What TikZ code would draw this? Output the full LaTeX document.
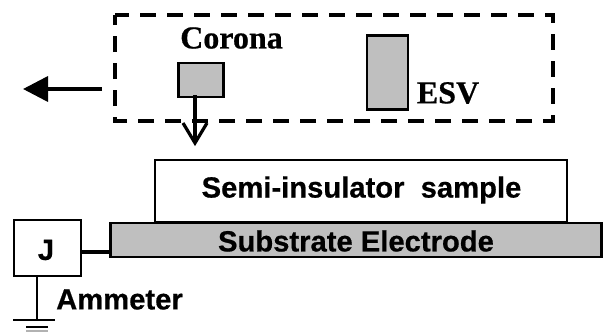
\documentclass[tikz,border=0pt]{standalone}
\usepackage{fontspec}
\setmainfont[BoldFeatures={FakeBold=0.6}]{Liberation Sans}
\newfontfamily\serifbold[BoldFeatures={FakeBold=0.6}]{Liberation Serif}
\usetikzlibrary{arrows.meta}
\tikzset{
  box/.style={draw=black,line width=2.2pt,inner sep=0pt,outer sep=0pt,fill=white},
  greybox/.style={box,fill=black!25},
  framebox/.style={inner sep=0pt,outer sep=0pt},
  dashline/.style={draw=black,line width=3.6pt,dash pattern=on 16pt off 11pt,dash phase=2pt},
  sanslabel/.style={font=\bfseries\fontsize{29.2}{32}\selectfont,inner sep=0pt,text=black},
  seriflabel/.style={font=\serifbold\bfseries\fontsize{32}{35}\selectfont,inner sep=0pt,text=black},
  wire/.style={draw=black,line width=2pt},
  thickwire/.style={draw=black,line width=3.6pt},
}
\begin{document}
\begin{tikzpicture}[x=1pt,y=-1pt]
\useasboundingbox (0,0) rectangle (603,332);
\node[framebox,minimum width=438pt,minimum height=106pt] (frame) at (334,68) {};
\draw[dashline] (frame.north west) -- (frame.north east) -- (frame.south east) -- (frame.south west) -- cycle;
\node[greybox,minimum width=45pt,minimum height=34pt] (corona) at (201,80) {};
\node[greybox,minimum width=41pt,minimum height=74pt] (esv) at (387.5,72.5) {};
\node[seriflabel] (coronalabel) at (231.5,38) {Corona};
\node[seriflabel] (esvlabel) at (448,93) {ESV};
\node[box,minimum width=412pt,minimum height=62pt] (sample) at (361,191) {};
\node[sanslabel] (samplelabel) at (361.5,190) {Semi-insulator\ \ sample};
\node[greybox,line width=2.6pt,minimum width=491pt,minimum height=34pt] (substrate) at (356,240) {};
\node[sanslabel] (substratelabel) at (356,241) {Substrate Electrode};
\node[box,minimum width=67pt,minimum height=56pt] (meter) at (47.5,248) {};
\node[sanslabel] (jlabel) at (46,250) {J};
\node[sanslabel] (ammeter) at (119.5,299.5) {Ammeter};
% connectors
\coordinate (leftend) at (23,89);
\coordinate (leftstart) at (102,89);
\draw[thickwire,-{Triangle[length=25pt,width=25pt]}] (leftstart) -- (leftend);
\coordinate (coronadown) at (195,95);
\coordinate (tip) at (195,143);
\draw[thickwire] (coronadown) -- (tip);
\draw[draw=black,line width=3.2pt,miter limit=10] (183,123) -- (tip) -- (207,123);
\draw[thickwire] (meter.east |- 0,252) -- (substrate.west |- 0,252);
\coordinate (gnd) at (37,320);
\draw[wire] (37,276) -- (gnd);
\draw[wire] (13,320) -- (55,320);
\draw[draw=black,line width=1.6pt] (26,327) -- (48,327);
\draw[draw=black!30,line width=1.4pt] (26,331) -- (48,331);
\end{tikzpicture}
\end{document}
